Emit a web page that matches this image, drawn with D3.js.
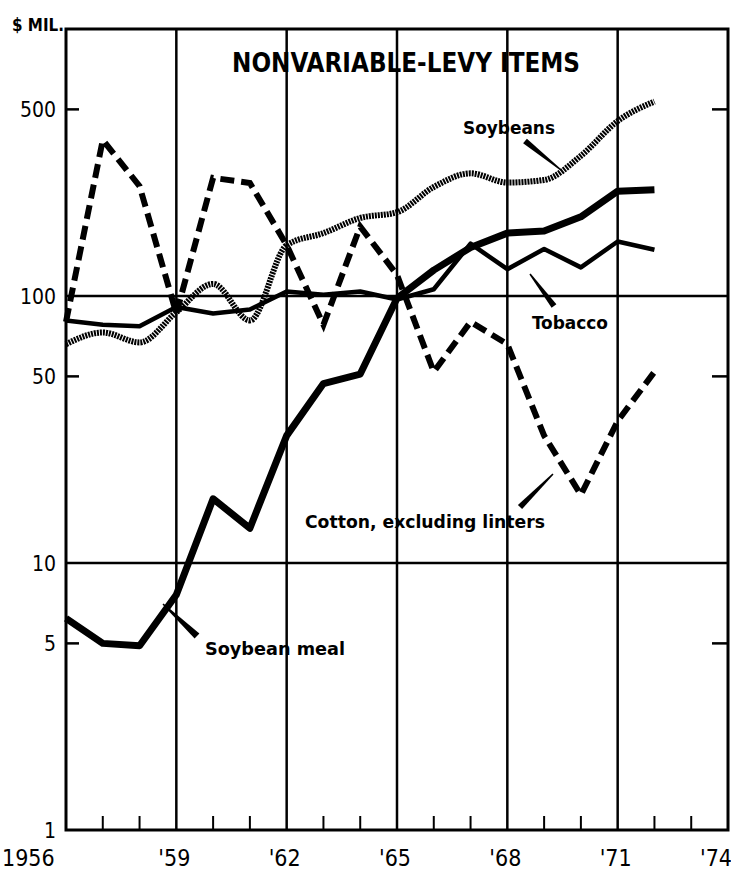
<!DOCTYPE html>
<meta charset="utf-8">
<style>
body { margin: 0; background: #fff; }
svg { display: block; }
text { font-family: "DejaVu Sans Condensed", "DejaVu Sans", sans-serif; fill: #000; }
</style>
<script src="https://d3js.org/d3.v7.min.js"></script>
<body>
<script>

var width = 731
var height = 877

// values in $ million
var years = [1956, 1957, 1958, 1959, 1960, 1961, 1962, 1963, 1964, 1965, 1966, 1967, 1968, 1969, 1970, 1971, 1972]
var soybeanMeal = [6.2, 5.0, 4.9, 7.6, 17.4, 13.5, 30, 47, 51, 98, 125, 152, 172, 175, 198, 247, 250]
var cotton = [80, 384, 258, 86, 277, 265, 155, 78, 182, 120, 52, 80, 66, 30, 18, 34, 52]
var tobacco = [81, 78, 77, 91, 86, 89, 104, 101, 104, 97, 106, 157, 126, 150, 128, 160, 149]
var soybeans = [66, 73, 67, 87, 111, 81, 155, 172, 196, 206, 256, 288, 266, 272, 335, 452, 535]

var gridYears = [1959, 1962, 1965, 1968, 1971]
var minorYears = [1957, 1958, 1960, 1961, 1963, 1964, 1966, 1967, 1969, 1970, 1972, 1973]
var yearLabels = ["1956", "'59", "'62", "'65", "'68", "'71", "'74"]
var yearLabelAt = [1956, 1959, 1962, 1965, 1968, 1971, 1974]
var valueLabels = [500, 100, 50, 10, 5, 1]
var gridValues = [100, 10]
var tickValues = [500, 50, 5]

var svg = d3.select("body").append("svg").attr("width", width).attr("height", height)

var x = d3.scaleLinear().domain([1956, 1974]).range([66, 728])
var y = d3.scaleLog().domain([1, 1000]).range([830, 29])

// frame and grid
var grid = svg.append("g").attr("stroke", "#000").attr("fill", "none")

grid.selectAll(".v").data(gridYears).enter().append("line")
  .attr("x1", d => x(d)).attr("x2", d => x(d))
  .attr("y1", y(1000)).attr("y2", y(1))
  .attr("stroke-width", 2.5)

grid.selectAll(".h").data(gridValues).enter().append("line")
  .attr("x1", x(1956)).attr("x2", x(1974))
  .attr("y1", d => y(d)).attr("y2", d => y(d))
  .attr("stroke-width", 2.5)

grid.append("rect")
  .attr("x", x(1956)).attr("y", y(1000))
  .attr("width", x(1974) - x(1956)).attr("height", y(1) - y(1000))
  .attr("stroke-width", 3)

grid.selectAll(".tl").data(tickValues).enter().append("line")
  .attr("x1", x(1956)).attr("x2", x(1956) + 13)
  .attr("y1", d => y(d)).attr("y2", d => y(d))
  .attr("stroke-width", 2.5)

grid.selectAll(".tr").data(tickValues).enter().append("line")
  .attr("x1", x(1974)).attr("x2", x(1974) - 16)
  .attr("y1", d => y(d)).attr("y2", d => y(d))
  .attr("stroke-width", 2.5)

grid.selectAll(".tb").data(minorYears).enter().append("line")
  .attr("x1", d => x(d)).attr("x2", d => x(d))
  .attr("y1", y(1)).attr("y2", y(1) - 14)
  .attr("stroke-width", 2)

// axis labels
svg.selectAll(".yl").data(valueLabels).enter().append("text")
  .attr("x", x(1956) - 10).attr("y", d => y(d) + 8)
  .attr("text-anchor", "end")
  .style("font-size", "21px")
  .text(d => d)

svg.selectAll(".xl").data(yearLabelAt).enter().append("text")
  .attr("x", (d, i) => i == 0 ? 2 : Math.min(x(d) - 2, 716))
  .attr("y", 866)
  .attr("text-anchor", (d, i) => i == 0 ? "start" : "middle")
  .style("font-size", "23px")
  .text((d, i) => yearLabels[i])

// series
var line = d3.line().x((d, i) => x(years[i])).y(d => y(d))
var smooth = d3.line().x((d, i) => x(years[i])).y(d => y(d)).curve(d3.curveMonotoneX)

svg.append("path").datum(soybeans).attr("d", smooth)
  .attr("fill", "none").attr("stroke", "#000")
  .attr("stroke-width", 6).attr("stroke-dasharray", "2,1")

svg.append("path").datum(tobacco).attr("d", line)
  .attr("fill", "none").attr("stroke", "#000")
  .attr("stroke-width", 4.5).attr("stroke-linejoin", "round")

svg.append("path").datum(cotton).attr("d", line)
  .attr("fill", "none").attr("stroke", "#000")
  .attr("stroke-width", 6).attr("stroke-dasharray", "14,7")

svg.append("path").datum(soybeanMeal).attr("d", line)
  .attr("fill", "none").attr("stroke", "#000")
  .attr("stroke-width", 7).attr("stroke-linejoin", "round")

// titles and series labels
function label(txt, x0, y0, w, size) {
  svg.append("text").attr("x", x0).attr("y", y0)
    .attr("textLength", w).attr("lengthAdjust", "spacingAndGlyphs")
    .style("font-size", size + "px").style("font-weight", "bold")
    .text(txt)
}
label("$ MIL.", 12, 31, 52, 17)
label("NONVARIABLE-LEVY ITEMS", 232, 72, 348, 27)
label("Soybeans", 463, 134, 92, 18)
label("Tobacco", 532, 329, 76, 18)
label("Cotton, excluding linters", 305, 528, 240, 18)
label("Soybean meal", 205, 655, 140, 18)

// leader wedges: thick end first
function wedge(x1, y1, x2, y2, w1, w2) {
  var dx = x2 - x1, dy = y2 - y1, l = Math.sqrt(dx * dx + dy * dy)
  var nx = -dy / l, ny = dx / l
  var pts = [[x1 + nx * w1 / 2, y1 + ny * w1 / 2], [x2 + nx * w2 / 2, y2 + ny * w2 / 2],
             [x2 - nx * w2 / 2, y2 - ny * w2 / 2], [x1 - nx * w1 / 2, y1 - ny * w1 / 2]]
  svg.append("polygon").attr("points", pts.map(p => p.join(",")).join(" ")).attr("fill", "#000")
}
wedge(525, 141, 561, 170, 6, 1.5)
wedge(554, 306, 530, 274, 6, 1.5)
wedge(520, 507, 553, 474, 6, 1.5)
wedge(197, 636, 163, 604, 7, 1.5)

</script>
</body>
